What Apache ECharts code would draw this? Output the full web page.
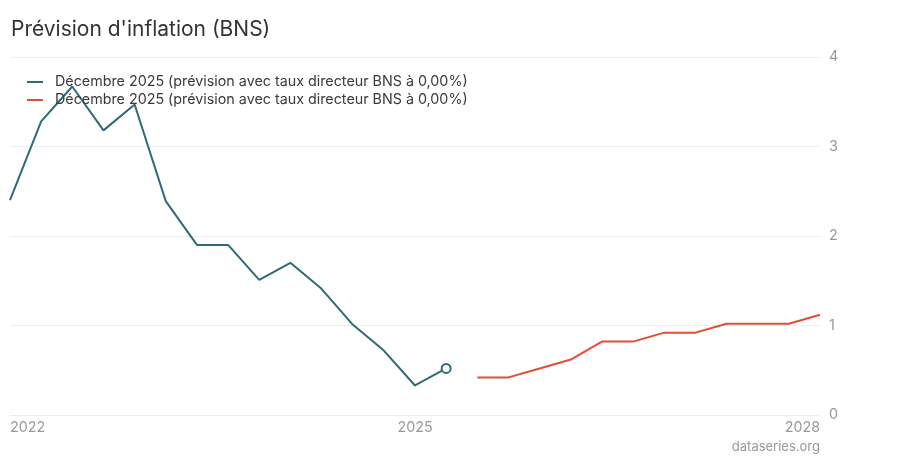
<!DOCTYPE html>
<html>
<head>
<meta charset="utf-8">
<script src="https://cdn.jsdelivr.net/npm/echarts@6/dist/echarts.min.js"></script>
<style>
html,body{margin:0;padding:0;background:#fff;}
#chart{width:900px;height:460px;}
</style>
</head>
<body>
<div id="chart"></div>
<script>
// Quarterly positions (27 quarters); labels shown only at a few positions
const xLabels = ['2022','','','','','','','','','','','','','2025','','','','','','','','','','','','','2028'];
const seriesNameObs = 'Décembre 2025 (prévision avec taux directeur BNS à 0,00%)';
const seriesNameFc = 'Décembre 2025 (prévision avec taux directeur BNS à 0,00%) ';
const observed = [2.40, 3.28, 3.67, 3.18, 3.47, 2.39, 1.90, 1.90, 1.51, 1.70, 1.41, 1.01, 0.72, 0.33, 0.52];
const forecast = [0.42, 0.42, 0.52, 0.62, 0.82, 0.82, 0.92, 0.92, 1.02, 1.02, 1.02, 1.12];
const yTicks = [0, 1, 2, 3, 4];

const N = xLabels.length;
const obsData = [];
const fcData = [];
for (let i = 0; i < N; i++) {
  if (i < observed.length) {
    if (i === observed.length - 1) {
      obsData.push({value: observed[i], symbol: 'circle', symbolSize: 9,
        itemStyle: {color: '#fff', borderColor: '#2e6b77', borderWidth: 2}});
    } else {
      obsData.push(observed[i]);
    }
  } else {
    obsData.push(null);
  }
  const j = i - observed.length;
  fcData.push(j >= 0 && j < forecast.length ? forecast[j] : null);
}

const chart = echarts.init(document.getElementById('chart'), null, {renderer: 'canvas'});
const FONT = 'Inter, "Noto Sans", sans-serif';
chart.setOption({
  animation: false,
  backgroundColor: '#fff',
  title: {
    text: "Prévision d'inflation (BNS)",
    left: 6, top: 14,
    textStyle: {fontFamily: FONT, fontSize: 21, fontWeight: 'normal', color: '#333'}
  },
  legend: {
    orient: 'vertical',
    left: 27, top: 75, padding: 0,
    itemWidth: 16, itemHeight: 2, itemGap: 4,
    icon: 'rect',
    textStyle: {fontFamily: FONT, fontSize: 14.3, color: '#3a3a3a', padding: [0, 0, 0, 7]},
    data: [seriesNameObs, seriesNameFc],
    formatter: function (n) { return n.trim(); }
  },
  graphic: [{
    type: 'text', right: 80, top: 441,
    style: {text: 'dataseries.org', fill: '#999', font: '13px ' + FONT}
  }],
  grid: {left: 10, right: 80, top: 57, bottom: 45, containLabel: false},
  xAxis: {
    type: 'category',
    data: xLabels,
    boundaryGap: false,
    axisLine: {show: true, lineStyle: {color: '#eeeeee'}},
    axisTick: {show: false},
    splitLine: {show: false},
    axisLabel: {
      interval: 0,
      color: '#999', fontFamily: FONT, fontSize: 14.3, margin: 6,
      alignMinLabel: 'left', alignMaxLabel: 'right'
    }
  },
  yAxis: {
    type: 'value',
    position: 'right',
    min: yTicks[0], max: yTicks[yTicks.length - 1], interval: 1,
    axisLine: {show: false},
    axisTick: {show: false},
    splitLine: {lineStyle: {color: '#eeeeee', width: 1}},
    axisLabel: {color: '#999', fontFamily: FONT, fontSize: 14.3, margin: 9}
  },
  series: [
    {
      name: seriesNameObs, type: 'line', data: obsData,
      symbol: 'none', connectNulls: false,
      lineStyle: {color: '#2e6b77', width: 2},
      itemStyle: {color: '#2e6b77'}
    },
    {
      name: seriesNameFc, type: 'line', data: fcData,
      symbol: 'none', connectNulls: false,
      lineStyle: {color: '#e34d33', width: 2},
      itemStyle: {color: '#e34d33'}
    }
  ]
});
</script>
</body>
</html>
